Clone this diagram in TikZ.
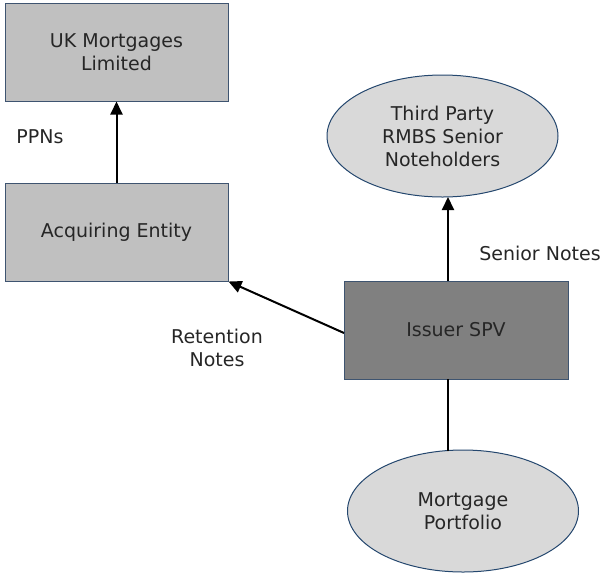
\documentclass[tikz,border=0pt]{standalone}
\usepackage{fontspec}
\setmainfont{DejaVu Sans}
\usetikzlibrary{shapes.geometric,arrows.meta}
\definecolor{txt}{HTML}{262626}
\definecolor{boxline}{HTML}{3E5470}
\definecolor{ellline}{HTML}{24476E}
\definecolor{boxfill}{HTML}{C0C0C0}
\definecolor{spvfill}{HTML}{808080}
\definecolor{ellfill}{HTML}{D9D9D9}
\tikzset{
  every node/.style={font=\fontsize{19}{23}\selectfont, text=txt, align=center, inner sep=0pt},
  gbox/.style={rectangle, draw=boxline, line width=1pt, fill=boxfill, minimum width=223pt, minimum height=98pt},
  spvbox/.style={gbox, fill=spvfill, minimum width=224pt},
  oval/.style={ellipse, draw=ellline, line width=1pt, fill=ellfill, minimum width=231pt, minimum height=122pt},
  arr/.style={line width=2pt, -{Triangle[length=13pt,width=12pt]}},
  plain/.style={line width=2pt},
  lbl/.style={}
}
\begin{document}
\begin{tikzpicture}[x=1pt,y=-1pt]
\useasboundingbox (0,0) rectangle (603,574);
\node[gbox] (uk) at (116.5,52) {UK Mortgages\\Limited};
\node[gbox] (acq) at (116.5,232) {Acquiring Entity};
\node[spvbox] (spv) at (456,330) {Issuer SPV};
\node[oval] (third) at (442.5,136) {Third Party\\RMBS Senior\\Noteholders};
\node[oval] (mort) at (463,511) {Mortgage\\Portfolio};
\node[lbl] (ppn) at (40,137) {PPNs};
\node[lbl] (sen) at (540,253) {Senior Notes};
\node[lbl] (ret) at (217,348) {Retention\\Notes};
\coordinate (spvtop) at (448,281);
\coordinate (thirdbot) at (448,197);
\coordinate (spvbot) at (448,379);
\coordinate (morttop) at (448,451);
\coordinate (spvleft) at (344,333);
\draw[arr] (acq.north) -- (uk.south);
\draw[arr] (spvtop) -- (thirdbot);
\draw[arr] (spvleft) -- (acq.south east);
\draw[plain] (spvbot) -- (morttop);
\end{tikzpicture}
\end{document}
